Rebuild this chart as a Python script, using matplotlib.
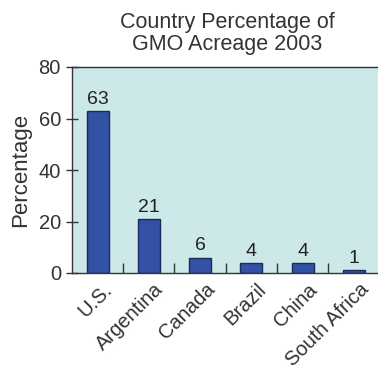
import matplotlib
matplotlib.use("Agg")
import matplotlib.pyplot as plt
import matplotlib.transforms as mtransforms
import numpy as np

countries = ["U.S.", "Argentina", "Canada", "Brazil", "China", "South Africa"]
percentages = [63, 21, 6, 4, 4, 1]
title = "Country Percentage of\nGMO Acreage 2003"
y_ticks = [0, 20, 40, 60, 80]

plt.rcParams['font.family'] = ['Liberation Sans', 'DejaVu Sans']

fig = plt.figure(figsize=(3.78, 3.72), dpi=100)
ax = fig.add_axes([72/378, 1-273/372, 310/378, (273-67)/372])
ax.set_facecolor("#cde8e9")
fig.patch.set_facecolor("white")

x = np.arange(len(countries))
ax.bar(x, percentages, width=0.43, color="#3352a6", edgecolor="#1a2a5a", linewidth=1.0)
for xi, v in zip(x, percentages):
    ax.text(xi, v + 1.2, str(v), ha="center", va="bottom", fontsize=14, color="#222222")

ax.set_xlim(-0.5, 5.55)
ax.set_ylim(0, 80)
ax.set_yticks(y_ticks)
ax.set_yticklabels([str(t) for t in y_ticks], fontsize=14.5, color="#333333")
ax.tick_params(axis="y", direction="inout", length=8, width=1, pad=4, color="#333333")

ax.set_xticks(x)
ax.set_xticklabels(countries, rotation=45, ha="right", rotation_mode="anchor", fontsize=14.5, color="#333333")
ax.tick_params(axis="x", length=0, pad=5)
offset = mtransforms.ScaledTranslation(5/100, 0, fig.dpi_scale_trans)
for lbl in ax.get_xticklabels():
    lbl.set_transform(lbl.get_transform() + offset)
ax.set_xticks(x[:-1] + 0.5, minor=True)
ax.tick_params(axis="x", which="minor", direction="in", length=7, width=1, color="#333333")

for s in ["left", "bottom", "top"]:
    ax.spines[s].set_color("#333333")
    ax.spines[s].set_linewidth(1.0)
ax.spines["right"].set_visible(False)

ax.set_ylabel("Percentage", fontsize=16, color="#333333", labelpad=5)
ax.set_title(title, fontsize=15.5, color="#333333", pad=12, linespacing=1.1)

fig.savefig("out.png", dpi=100)
